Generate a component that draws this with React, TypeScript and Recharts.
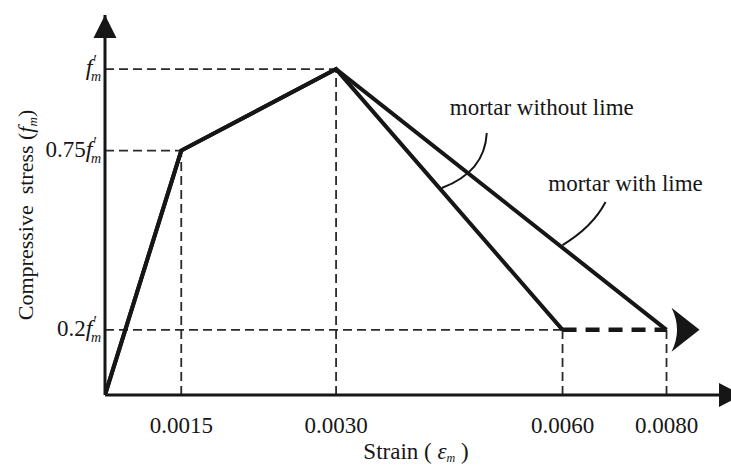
import React from "react";
import { LineChart, Line, XAxis, YAxis, ReferenceLine, ReferenceDot, Label } from "recharts";

const SERIF = '"Liberation Serif", "Times New Roman", serif';
const INK = "#161616";

// stress is in units of f'm, strain is absolute
const strainWithout = [0, 0.0015, 0.003, 0.006];
const stressWithout = [0, 0.75, 1, 0.2];
const strainWith = [0, 0.0015, 0.003, 0.008];
const stressWith = [0, 0.75, 1, 0.2];
const residualStrain = [0.006, 0.008];
const residualStress = [0.2, 0.2];

const strainTicks = [0.0015, 0.003, 0.006, 0.008];
const stressTicks = [0.2, 0.75, 1];
const stressTickPrefix = ["0.2", "0.75", ""];

// strain axis is drawn schematically (not to scale)
const strainStops = [0, 0.0015, 0.003, 0.006, 0.008];
const strainSpacing = [0, 0.33, 1, 1.98, 2.43];
const STRAIN_MAX = 0.00924;
const STRESS_MAX = 1.166;

const callouts = [
  { text: "mortar without lime", strain: 0.0044, stress: 0.635 },
  { text: "mortar with lime", strain: 0.006, stress: 0.46 },
];

const toRows = (xs: number[], ys: number[]) => xs.map((x, i) => ({ strain: x, stress: ys[i] }));

function schematicScale(stops: number[], spots: number[]): any {
  let dom = [stops[0], stops[stops.length - 1]];
  let rng = [0, 1];
  const spot = (v: number) => {
    let i = 1;
    while (i < stops.length - 1 && v > stops[i]) i++;
    const t = (v - stops[i - 1]) / (stops[i] - stops[i - 1]);
    return spots[i - 1] + t * (spots[i] - spots[i - 1]);
  };
  const s: any = (v: number) => {
    const a = spot(dom[0]);
    const b = spot(dom[dom.length - 1]);
    return rng[0] + ((spot(v) - a) / (b - a)) * (rng[rng.length - 1] - rng[0]);
  };
  s.domain = (d?: any[]) => {
    if (!d) return dom.slice();
    dom = d.map(Number);
    return s;
  };
  s.range = (r?: number[]) => {
    if (!r) return rng.slice();
    rng = r.slice();
    return s;
  };
  s.copy = () => schematicScale(stops, spots).domain(dom).range(rng);
  s.ticks = () => stops.slice(1);
  return s;
}

const strainScale = schematicScale(strainStops, strainSpacing);

// kink points of the curves, for the thin dashed guides
const kinks = toRows(strainWith, stressWith).slice(1).concat(toRows(strainWithout, stressWithout).slice(3));
kinks.sort((a, b) => a.strain - b.strain);

function FmSymbol({ prefix }: { prefix: string }) {
  return (
    <>
      {prefix && <tspan>{prefix}</tspan>}
      <tspan fontStyle="italic" fontSize={24}>f</tspan>
      <tspan dx={1} dy={-9} fontSize={16}>′</tspan>
      <tspan dx={-6} dy={15} fontSize={14} fontStyle="italic">m</tspan>
    </>
  );
}

const StressTick = (p: any) => {
  const i = stressTicks.indexOf(p.payload.value);
  return (
    <text x={p.x} y={p.y + 6} textAnchor="end" fontFamily={SERIF} fontSize={23} fill={INK}>
      <FmSymbol prefix={stressTickPrefix[i] ?? ""} />
    </text>
  );
};

const StrainTick = (p: any) => (
  <text x={p.x} y={p.y + 38} textAnchor="middle" fontFamily={SERIF} fontSize={23} fill={INK}>
    {Number(p.payload.value).toFixed(4)}
  </text>
);

const StrainTitle = (p: any) => {
  const vb = p.viewBox;
  return (
    <text x={vb.x + vb.width / 2 - 2} y={vb.y + 64} textAnchor="middle" fontFamily={SERIF} fontSize={23} fill={INK} style={{ whiteSpace: "pre" }}>
      <tspan>{"Strain ( "}</tspan>
      <tspan fontStyle="italic">ε</tspan>
      <tspan dy={3} fontSize={12} fontStyle="italic">m</tspan>
      <tspan dy={-3}>{" )"}</tspan>
    </text>
  );
};

const StressTitle = (p: any) => {
  const vb = p.viewBox;
  const cx = 33;
  const cy = vb.y + vb.height / 2 + 10;
  return (
    <text transform={`translate(${cx},${cy}) rotate(-90)`} textAnchor="middle" fontFamily={SERIF} fontSize={22} fill={INK} style={{ whiteSpace: "pre" }}>
      <tspan>{"Compressive  stress ("}</tspan>
      <tspan fontStyle="italic">f</tspan>
      <tspan dy={4} fontSize={13} fontStyle="italic">m</tspan>
      <tspan dy={-4}>)</tspan>
    </text>
  );
};

const UpArrow = (p: any) => (
  <polygon points={`${p.cx},${p.cy} ${p.cx - 11.5},${p.cy + 23} ${p.cx + 11.5},${p.cy + 23}`} fill={INK} />
);

const RightArrow = (p: any) => (
  <polygon points={`${p.cx + 11},${p.cy} ${p.cx - 12},${p.cy - 12} ${p.cx - 12},${p.cy + 12}`} fill={INK} />
);

const ResidualArrow = (p: any) => (
  <path
    d={`M${p.cx + 33},${p.cy} L${p.cx + 5},${p.cy - 22} Q${p.cx + 16},${p.cy} ${p.cx + 5},${p.cy + 22} Z`}
    fill={INK}
  />
);

const calloutShape = (idx: number) => (p: any) => {
  const { cx, cy } = p;
  if (idx === 0) {
    return (
      <g>
        <path d={`M${cx},${cy} Q${cx + 43},${cy - 16} ${cx + 45},${cy - 55}`} fill="none" stroke={INK} strokeWidth={2} />
        <text x={cx + 100} y={cy - 73} textAnchor="middle" fontFamily={SERIF} fontSize={23} fill={INK}>
          {callouts[0].text}
        </text>
      </g>
    );
  }
  return (
    <g>
      <path d={`M${cx},${cy} Q${cx + 30},${cy - 18} ${cx + 43},${cy - 43}`} fill="none" stroke={INK} strokeWidth={2} />
      <text x={cx + 63} y={cy - 54} textAnchor="middle" fontFamily={SERIF} fontSize={23} fill={INK}>
        {callouts[1].text}
      </text>
    </g>
  );
};

export default function App() {
  const guide = { stroke: "#2a2a2a", strokeWidth: 1.8, strokeDasharray: "9 5" };
  return (
    <div style={{ position: "absolute", left: 0, top: 0, background: "#fff" }}>
      <LineChart width={731} height={468} margin={{ top: 15, right: 0, bottom: 0, left: 0 }}>
        <XAxis
          type="number"
          dataKey="strain"
          domain={[0, STRAIN_MAX]}
          allowDataOverflow
          scale={strainScale}
          ticks={strainTicks}
          tick={<StrainTick />}
          tickLine={false}
          tickSize={0}
          tickMargin={0}
          height={73}
          axisLine={{ stroke: INK, strokeWidth: 3 }}
        >
          <Label content={<StrainTitle />} />
        </XAxis>
        <YAxis
          type="number"
          dataKey="stress"
          domain={[0, STRESS_MAX]}
          allowDataOverflow
          ticks={stressTicks}
          tick={<StressTick />}
          tickLine={false}
          tickSize={0}
          tickMargin={4}
          width={105}
          axisLine={{ stroke: INK, strokeWidth: 3 }}
        >
          <Label content={<StressTitle />} />
        </YAxis>

        {kinks.map((k, i) =>
          i === kinks.length - 1 ? null : (
            <ReferenceLine key={`h${i}`} segment={[{ x: 0, y: k.stress }, { x: k.strain, y: k.stress }]} {...guide} />
          )
        )}
        {kinks.map((k, i) => (
          <ReferenceLine key={`v${i}`} segment={[{ x: k.strain, y: 0 }, { x: k.strain, y: k.stress }]} {...guide} />
        ))}

        <Line
          data={toRows(strainWith, stressWith)}
          dataKey="stress"
          type="linear"
          stroke={INK}
          strokeWidth={4}
          strokeLinejoin="miter"
          dot={false}
          isAnimationActive={false}
        />
        <Line
          data={toRows(strainWithout, stressWithout)}
          dataKey="stress"
          type="linear"
          stroke={INK}
          strokeWidth={4}
          strokeLinejoin="miter"
          dot={false}
          isAnimationActive={false}
        />
        <Line
          data={toRows(residualStrain, residualStress)}
          dataKey="stress"
          type="linear"
          stroke={INK}
          strokeWidth={4.5}
          strokeDasharray="14 9"
          dot={false}
          isAnimationActive={false}
        />

        <ReferenceDot x={0} y={STRESS_MAX} r={0} ifOverflow="visible" shape={<UpArrow />} />
        <ReferenceDot x={STRAIN_MAX} y={0} r={0} ifOverflow="visible" shape={<RightArrow />} />
        <ReferenceDot x={residualStrain[1]} y={residualStress[1]} r={0} ifOverflow="visible" shape={<ResidualArrow />} />
        {callouts.map((c, i) => (
          <ReferenceDot key={c.text} x={c.strain} y={c.stress} r={0} ifOverflow="visible" shape={calloutShape(i)} />
        ))}
      </LineChart>
    </div>
  );
}
